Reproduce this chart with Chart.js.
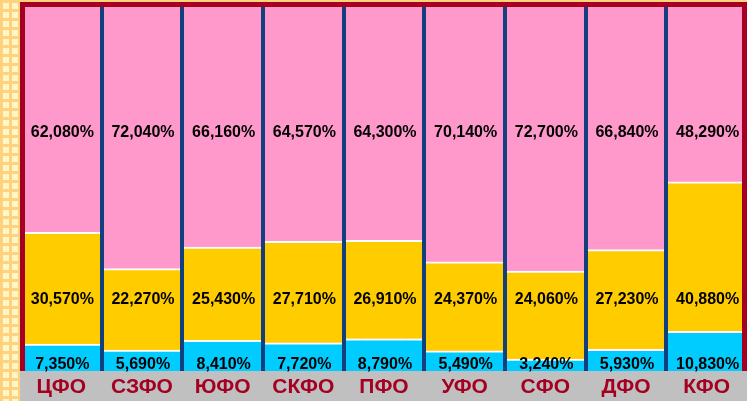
<!DOCTYPE html>
<html>
<head>
<meta charset="utf-8">
<script src="https://cdn.jsdelivr.net/npm/chart.js@4/dist/chart.umd.min.js"></script>
<style>
  html, body { margin: 0; padding: 0; }
  body {
    width: 747px; height: 401px; overflow: hidden;
    background-color: #FFF6C8;
    background-image:
      linear-gradient(to right, #FFD27F 3px, transparent 3px),
      linear-gradient(to bottom, #FFD27F 3px, transparent 3px);
    background-size: 9px 9px;
  }
  canvas { display: block; }
</style>
</head>
<body>
<canvas id="chart" width="747" height="401"></canvas>
<script>
// данные (доли, %)
const categories = ['ЦФО', 'СЗФО', 'ЮФО', 'СКФО', 'ПФО', 'УФО', 'СФО', 'ДФО', 'КФО'];
const cyanValues = [7.35, 5.69, 8.41, 7.72, 8.79, 5.49, 3.24, 5.93, 10.83];
const yellowValues = [30.57, 22.27, 25.43, 27.71, 26.91, 24.37, 24.06, 27.23, 40.88];
const pinkValues = [62.08, 72.04, 66.16, 64.57, 64.30, 70.14, 72.70, 66.84, 48.29];

// уровень (по оси Y), на котором пишутся подписи каждого ряда
const labelLevels = [1.8, 19.4, 65.1];

const fmt = v => v.toFixed(3).replace('.', ',') + '%';

// фон полосы подписей, названия округов и красная рамка
const framePlugin = {
    id: 'frame',
    beforeDraw(chart) {
        const ctx = chart.ctx;
        const a = chart.chartArea;
        ctx.save();
        ctx.fillStyle = '#C0C0C0';
        ctx.fillRect(20, a.bottom, chart.width - 20, chart.height - a.bottom);
        ctx.restore();
    },
    afterDraw(chart) {
        const ctx = chart.ctx;
        const a = chart.chartArea;
        const x = chart.scales.x;
        ctx.save();
        ctx.font = 'bold 21px "Liberation Sans", Arial, sans-serif';
        ctx.fillStyle = '#A50021';
        ctx.textAlign = 'center';
        ctx.textBaseline = 'middle';
        categories.forEach((c, i) => {
            ctx.fillText(c, x.getPixelForValue(i), a.bottom + 16);
        });
        ctx.strokeStyle = '#A50021';
        ctx.lineWidth = 5;
        ctx.beginPath();
        ctx.moveTo(22.5, a.bottom);
        ctx.lineTo(22.5, 4.5);
        ctx.lineTo(744.5, 4.5);
        ctx.lineTo(744.5, a.bottom);
        ctx.stroke();
        ctx.restore();
    }
};

// подписи значений
const valueLabels = {
    id: 'valueLabels',
    afterDatasetsDraw(chart) {
        const ctx = chart.ctx;
        const yScale = chart.scales.y;
        ctx.save();
        ctx.font = 'bold 16px "Liberation Sans", Arial, sans-serif';
        ctx.fillStyle = '#000';
        ctx.textAlign = 'center';
        ctx.textBaseline = 'middle';
        chart.data.datasets.forEach((ds, i) => {
            const meta = chart.getDatasetMeta(i);
            const y = yScale.getPixelForValue(labelLevels[i]);
            meta.data.forEach((bar, j) => {
                ctx.fillText(fmt(ds.data[j]), bar.x + 1, y);
            });
        });
        ctx.restore();
    }
};

const whiteTop = { top: 2, left: 0, right: 0, bottom: 0 };

new Chart(document.getElementById('chart').getContext('2d'), {
    type: 'bar',
    data: {
        labels: categories,
        datasets: [
            { data: cyanValues, backgroundColor: '#00CCFF', borderColor: '#FFFFFF', borderWidth: whiteTop, borderSkipped: false },
            { data: yellowValues, backgroundColor: '#FFCC00', borderColor: '#FFFFFF', borderWidth: whiteTop, borderSkipped: false },
            { data: pinkValues, backgroundColor: '#FF99CC', borderWidth: 0 }
        ]
    },
    options: {
        responsive: false,
        animation: false,
        devicePixelRatio: 1,
        layout: { padding: { left: 21, right: 0, top: 5, bottom: 30 } },
        datasets: { bar: { barPercentage: 1, categoryPercentage: 1 } },
        plugins: {
            legend: { display: false },
            tooltip: { enabled: false }
        },
        scales: {
            x: {
                stacked: true,
                border: { display: false },
                grid: {
                    z: 1,
                    offset: true,
                    drawTicks: false,
                    lineWidth: 4,
                    color: c => (c.index === 0 || c.index === categories.length) ? 'rgba(0,0,0,0)' : '#123F7E'
                },
                ticks: { display: false }
            },
            y: {
                stacked: true,
                display: false,
                min: 0,
                max: 100
            }
        }
    },
    plugins: [framePlugin, valueLabels]
});
</script>
</body>
</html>
